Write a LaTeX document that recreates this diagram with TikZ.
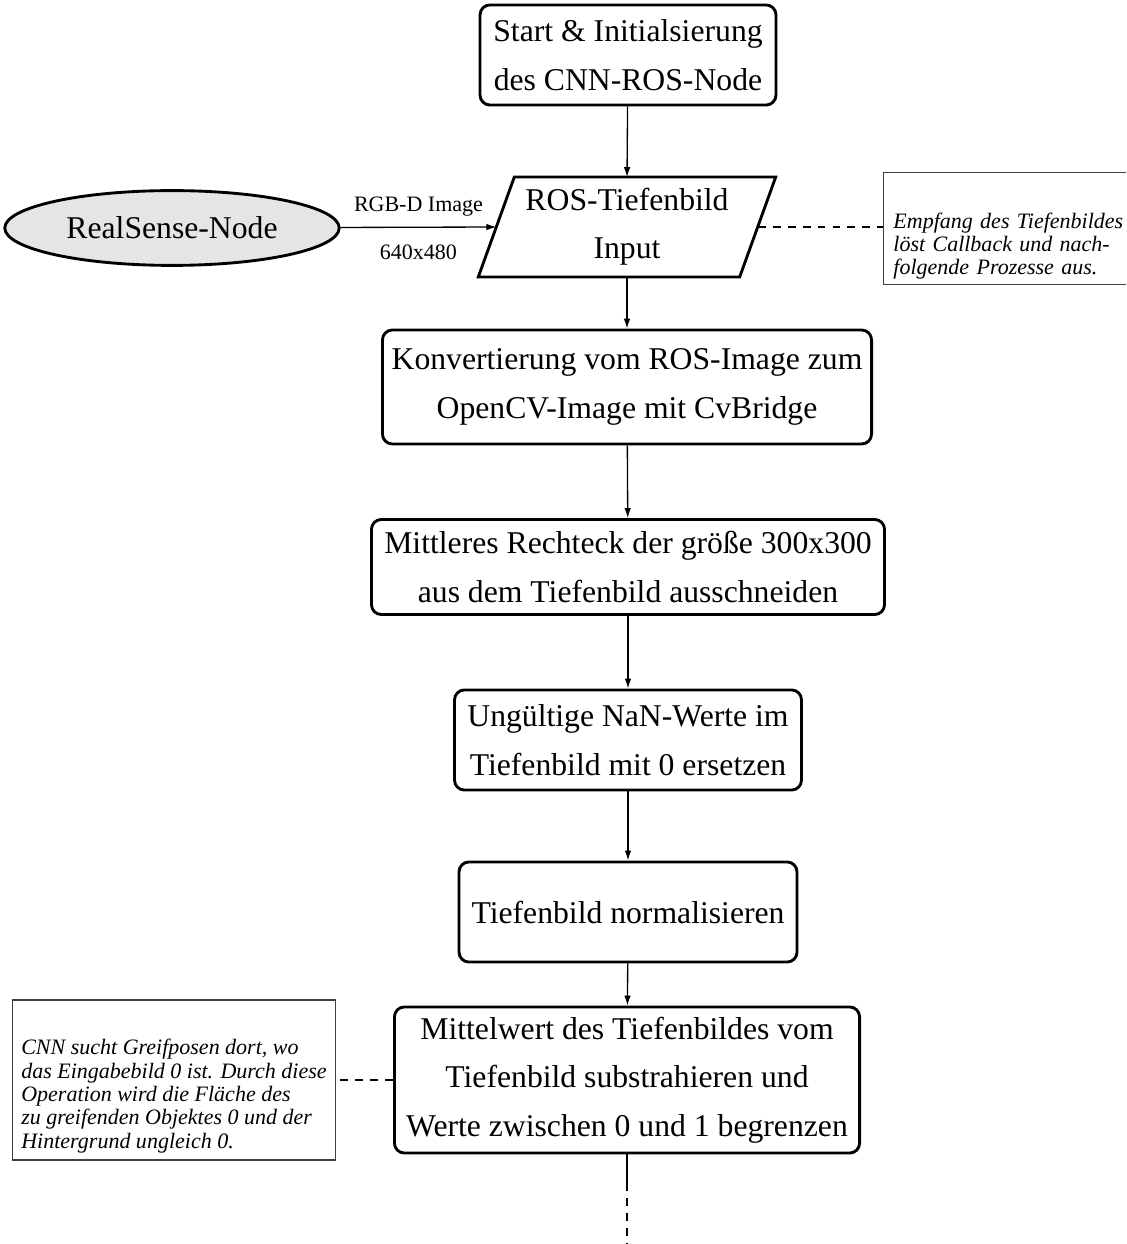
\documentclass[tikz,border=0pt]{standalone}
\usepackage{fontspec}
\setmainfont{Liberation Serif}[
  UprightFont={Liberation Serif},
  ItalicFont={Liberation Serif Italic},
  BoldFont={Liberation Serif Bold}]
\usetikzlibrary{shapes.geometric,arrows.meta,calc}

\begin{document}
\begin{tikzpicture}[x=0.4545pt,y=-0.4545pt,
  proc/.style={draw, line width=1.3pt, rounded corners=4.5pt, align=center,
    font=\fontsize{14.4}{22}\selectfont, inner sep=0pt},
  note/.style={draw=black!75, line width=0.5pt, align=left,
    font=\fontsize{10}{10.6}\selectfont\itshape, inner ysep=0pt},
  flow/.style={-{Latex[length=4.5pt,width=3pt]}, line width=0.6pt},
  link/.style={dashed, dash pattern=on 3.6pt off 3.2pt, line width=0.5pt},
  lbl/.style={font=\fontsize{10}{12}\selectfont, inner sep=0pt, anchor=base}]
\useasboundingbox (0,0) rectangle (1126,1244);
\clip (0,0) rectangle (1126,1244);

% process steps
\node[proc, minimum width=134.5pt, minimum height=45.5pt] (start) at (628,55)
  {Start \& Initialsierung\\des CNN-ROS-Node};

% depth image input (parallelogram drawn around an empty-framed node)
\node[align=center, font=\fontsize{14.4}{22}\selectfont, inner sep=0pt,
  minimum width=118.4pt, minimum height=45pt] (input) at (627,227)
  {ROS-Tiefenbild\\Input};
\draw[line width=1.3pt, line join=miter]
  ($(input.north west)+(18,0)$) -- ($(input.north east)+(18,0)$) --
  ($(input.south east)+(-18,0)$) -- ($(input.south west)+(-18,0)$) -- cycle;

\node[ellipse, draw, line width=1.3pt, fill=black!10, inner sep=0pt,
  minimum width=152pt, minimum height=34pt,
  font=\fontsize{14.4}{22}\selectfont] (rs) at (172,228) {RealSense-Node};

\node[proc, minimum width=222.3pt, minimum height=51.8pt] (convert) at (627,387)
  {Konvertierung vom ROS-Image zum\\OpenCV-Image mit CvBridge};
\node[proc, minimum width=233.2pt, minimum height=43.2pt] (crop) at (628,567)
  {Mittleres Rechteck der größe 300x300\\aus dem Tiefenbild ausschneiden};
\node[proc, minimum width=157.7pt, minimum height=45.5pt] (nan) at (628,740)
  {Ungültige NaN-Werte im\\Tiefenbild mit 0 ersetzen};
\node[proc, minimum width=153.6pt, minimum height=45.5pt] (norm) at (628,912)
  {Tiefenbild normalisieren};
\node[proc, minimum width=211.4pt, minimum height=66.4pt] (mean) at (627,1080)
  {Mittelwert des Tiefenbildes vom\\Tiefenbild substrahieren und\\Werte zwischen 0 und 1 begrenzen};

% annotations (a strut on the first line sets the text low in the frame)
\node[note, anchor=west, inner xsep=4.5pt, text width=112pt, minimum height=50.5pt]
  (note1) at (883,228.5)
  {\rule{0pt}{23pt}Empfang des Tiefenbildes\\löst Callback und nach-\\folgende Prozesse aus.};
\node[note, inner xsep=0pt, minimum width=147pt, minimum height=72.7pt]
  (note2) at (174,1080)
  {\rule{0pt}{21.6pt}CNN sucht Greifposen dort, wo\\das Eingabebild 0 ist. Durch diese\\Operation wird die Fläche des\\zu greifenden Objektes 0 und der\\Hintergrund ungleich 0.};

% connectors
\draw[flow] (start) -- (input.north);
\draw[flow] (rs) -- node[lbl, yshift=7.2pt] {RGB-D Image}
  node[lbl, yshift=-14.8pt] {640x480} (input.west);
\draw[flow] (input.south) -- (convert);
\draw[flow] (convert) -- (crop);
\draw[flow] (crop) -- (nan);
\draw[flow] (nan) -- (norm);
\draw[flow] (norm) -- (mean);
\draw[link] (input.east) -- (input.east -| note1.west);
\draw[link] (mean.west) -- (mean.west -| note2.east);

% continuation below the last step
\coordinate (tail) at ($(mean.south)+(0,29)$);
\coordinate (cont) at ($(mean.south)+(0,95)$);
\draw[line width=0.6pt] (mean.south) -- (tail);
\draw[link, line width=0.6pt] (tail) -- (cont);
\end{tikzpicture}
\end{document}
